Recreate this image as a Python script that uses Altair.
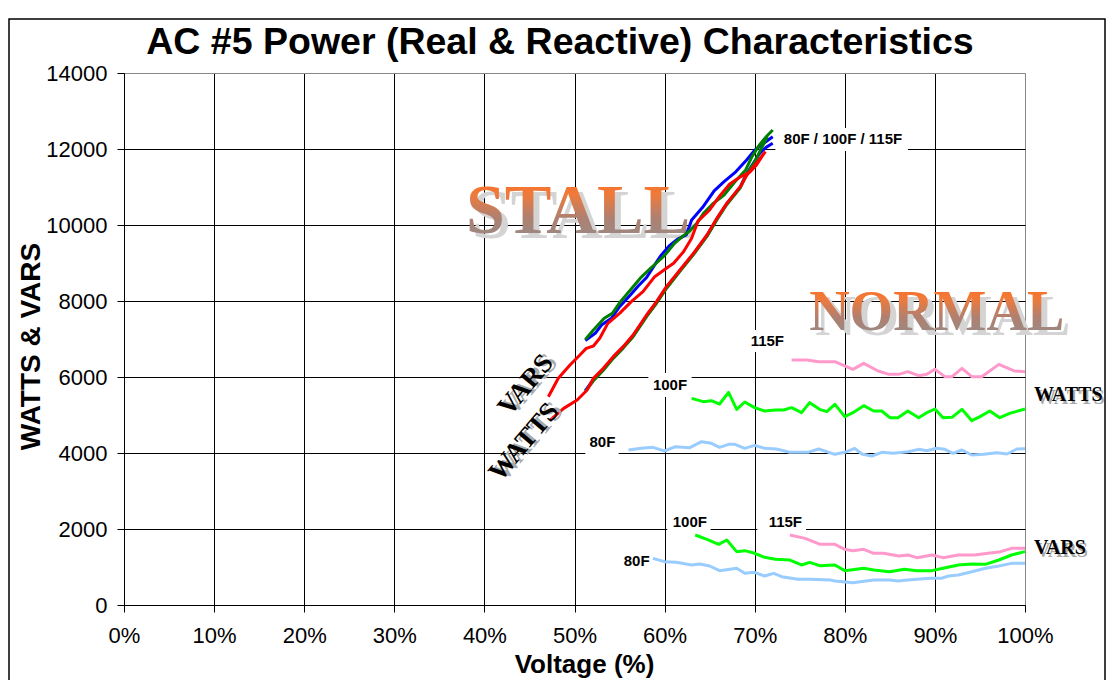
import altair as alt
import pandas as pd

# ---------------- data (voltage %, watts/vars) ----------------
# Stall region, VARS (upper group)
STALL_VARS_80F_X = [51.2, 52.3, 53.0, 54.1, 55.0, 56.2, 57.1, 58.0, 58.9, 59.6, 60.5, 61.4, 62.4, 63.0, 64.2, 65.5, 66.6, 67.9, 69.1, 70.0, 71.0, 72.0]
STALL_VARS_80F_Y = [6960, 7149, 7368, 7544, 7851, 8158, 8400, 8620, 8950, 9200, 9450, 9620, 9740, 10130, 10460, 10900, 11140, 11400, 11710, 11970, 12150, 12320]
STALL_VARS_100F_X = [51.2, 52.1, 53.3, 54.2, 55.1, 56.2, 57.3, 58.4, 59.1, 60.0, 61.1, 62.0, 62.8, 63.6, 64.3, 65.4, 66.6, 67.8, 69.0, 69.7, 70.5, 71.3, 72.0]
STALL_VARS_100F_Y = [6990, 7237, 7544, 7675, 7982, 8289, 8600, 8850, 9000, 9200, 9520, 9700, 9850, 10050, 10300, 10570, 10790, 11140, 11450, 11800, 12100, 12330, 12500]
STALL_VARS_115F_X = [47.1, 48.2, 49.5, 50.6, 51.3, 52.1, 52.8, 53.7, 55.0, 56.3, 57.6, 58.9, 60.2, 61.0, 62.1, 63.0, 63.7, 65.0, 66.1, 67.2, 68.3, 69.5, 70.2, 71.0]
STALL_VARS_115F_Y = [5482, 5965, 6316, 6579, 6754, 6816, 7018, 7412, 7675, 7982, 8246, 8640, 8860, 8991, 9298, 9650, 10100, 10395, 10760, 11070, 11250, 11400, 11580, 11880]

# Stall region, WATTS (lower group)
STALL_WATTS_80F_X = [51.2, 52.1, 53.2, 54.3, 55.4, 56.5, 58.0, 59.1, 60.2, 61.7, 63.2, 64.7, 65.8, 66.9, 68.4, 69.1, 69.9, 70.6, 71.3, 72.0]
STALL_WATTS_80F_Y = [5640, 5930, 6200, 6510, 6780, 7080, 7610, 7960, 8350, 8800, 9240, 9720, 10160, 10560, 11000, 11350, 11640, 11900, 12050, 12150]
STALL_WATTS_100F_X = [51.2, 52.1, 53.2, 54.3, 55.4, 56.5, 58.0, 59.1, 60.2, 61.7, 63.2, 64.7, 65.8, 66.9, 68.4, 69.1, 69.9, 70.6, 71.4]
STALL_WATTS_100F_Y = [5614, 5900, 6180, 6490, 6760, 7060, 7590, 7940, 8330, 8780, 9220, 9700, 10140, 10540, 10980, 11330, 11620, 11950, 12320]
STALL_WATTS_115F_X = [47.3, 48.8, 50.3, 51.4, 52.1, 53.2, 54.3, 55.4, 56.5, 58.0, 59.1, 60.2, 61.7, 63.2, 64.7, 65.8, 66.9, 68.4, 69.1, 69.9, 70.6, 71.2]
STALL_WATTS_115F_Y = [4868, 5175, 5395, 5658, 5965, 6228, 6535, 6798, 7105, 7632, 7982, 8377, 8816, 9254, 9737, 10175, 10570, 11009, 11300, 11550, 11750, 11930]

# Normal region, WATTS
NORM_WATTS_80F_X = [56.0, 57.4, 58.7, 60.0, 61.2, 62.8, 64.1, 65.2, 66.1, 67.1, 67.8, 68.9, 70.0, 71.1, 72.4, 73.9, 75.9, 77.1, 78.9, 80.0, 81.1, 81.9, 83.0, 84.1, 85.4, 87.0, 88.2, 89.1, 90.2, 91.1, 92.0, 93.0, 94.1, 95.4, 96.9, 98.0, 99.1, 100.0]
NORM_WATTS_80F_Y = [4079, 4123, 4149, 4053, 4167, 4140, 4298, 4254, 4149, 4228, 4228, 4123, 4202, 4123, 4105, 4018, 4018, 4105, 3965, 4018, 4123, 3974, 3921, 4018, 3991, 4035, 4096, 4061, 4123, 4096, 3991, 4079, 3947, 3965, 4009, 3974, 4105, 4114]
NORM_WATTS_100F_X = [63.0, 64.3, 65.2, 66.1, 67.1, 68.0, 68.9, 70.0, 71.1, 72.3, 73.2, 74.1, 75.2, 76.1, 77.2, 78.0, 78.9, 80.0, 80.9, 82.1, 83.2, 84.1, 85.0, 85.9, 87.0, 88.2, 89.1, 90.0, 90.9, 91.9, 93.0, 94.1, 95.0, 96.1, 97.2, 98.3, 100.0]
NORM_WATTS_100F_Y = [5439, 5351, 5377, 5289, 5597, 5149, 5342, 5193, 5105, 5132, 5132, 5193, 5061, 5325, 5149, 5088, 5281, 4956, 5061, 5246, 5105, 5105, 4930, 4930, 5105, 4930, 5061, 5158, 4930, 4939, 5149, 4851, 4956, 5105, 4930, 5044, 5158]
NORM_WATTS_115F_X = [74.1, 75.8, 77.1, 78.9, 80.9, 82.1, 83.7, 84.9, 86.0, 87.0, 88.2, 89.1, 90.0, 91.1, 91.9, 93.0, 94.1, 95.2, 97.1, 98.8, 100.0]
NORM_WATTS_115F_Y = [6447, 6447, 6404, 6404, 6202, 6360, 6158, 6070, 6070, 6140, 6035, 6070, 6202, 6009, 6009, 6228, 6009, 6009, 6333, 6158, 6140]

# Normal region, VARS
NORM_VARS_80F_X = [58.7, 60.0, 61.3, 63.0, 63.9, 65.0, 66.1, 68.0, 68.9, 70.0, 71.1, 72.1, 73.0, 74.8, 76.1, 78.4, 78.9, 80.9, 83.2, 85.0, 85.9, 87.0, 88.0, 89.5, 90.7, 91.5, 92.6, 94.1, 95.6, 97.1, 98.5, 100.0]
NORM_VARS_80F_Y = [1228, 1140, 1123, 1053, 1079, 1026, 904, 965, 833, 860, 763, 833, 746, 675, 675, 658, 632, 588, 658, 658, 632, 658, 675, 702, 702, 763, 789, 877, 965, 1026, 1096, 1096]
NORM_VARS_100F_X = [63.4, 64.7, 66.0, 66.9, 68.0, 68.9, 70.0, 71.1, 72.3, 73.9, 75.2, 76.1, 77.2, 78.9, 80.0, 82.1, 83.2, 85.0, 86.6, 88.0, 89.7, 90.9, 92.6, 94.1, 95.6, 97.1, 98.5, 100.0]
NORM_VARS_100F_Y = [1842, 1728, 1596, 1711, 1404, 1430, 1360, 1254, 1202, 1184, 1053, 1123, 1035, 1053, 904, 965, 921, 877, 939, 904, 904, 965, 1053, 1079, 1070, 1184, 1316, 1404]
NORM_VARS_115F_X = [73.9, 75.6, 77.2, 78.9, 80.0, 80.9, 82.1, 83.2, 84.3, 86.0, 87.0, 88.0, 89.7, 90.9, 92.6, 94.4, 95.9, 97.3, 98.5, 100.0]
NORM_VARS_115F_Y = [1842, 1754, 1600, 1596, 1465, 1430, 1465, 1360, 1360, 1289, 1316, 1246, 1316, 1246, 1316, 1316, 1360, 1404, 1491, 1491]

X_TICKS = list(range(0, 101, 10))
Y_TICKS = list(range(0, 14001, 2000))

TITLE = "AC #5 Power (Real & Reactive) Characteristics"

# annotation texts (placed in data coordinates)
LABEL_TEXT = ["80F / 100F / 115F", "115F", "100F", "80F", "100F", "115F", "80F"]
LABEL_X = [79.8, 71.4, 60.6, 53.1, 62.8, 73.4, 56.9]
LABEL_Y = [12263, 6947, 5789, 4289, 2184, 2184, 1158]
BOX_X = [72.3, 68.9, 58.2, 51.2, 60.3, 70.3]
BOX_X2 = [87.0, 73.9, 63.0, 54.9, 65.1, 75.7]
BOX_Y = [12553, 7237, 6105, 4605, 2447, 2447]
BOX_Y2 = [11947, 6658, 5474, 3947, 1868, 1868]

BIG_TEXT = ["STALL", "NORMAL"]
BIG_X = [50.4, 90.2]
BIG_Y = [10345, 7684]
BIG_SIZE = [70, 56]

ROT_TEXT = ["VARS", "WATTS"]
ROT_X = [44.6, 44.4]
ROT_Y = [5789, 4289]

SIDE_TEXT = ["WATTS", "VARS"]
SIDE_X = [101.0, 101.0]
SIDE_Y = [5526, 1500]

# ---------------- build tables ----------------
def series(name, xs, ys):
    return pd.DataFrame({"x": xs, "y": ys, "series": name, "i": range(len(xs))})

groups = [
    ("#99CCFF", [("nw80", NORM_WATTS_80F_X, NORM_WATTS_80F_Y), ("nv80", NORM_VARS_80F_X, NORM_VARS_80F_Y)]),
    ("#00FF00", [("nw100", NORM_WATTS_100F_X, NORM_WATTS_100F_Y), ("nv100", NORM_VARS_100F_X, NORM_VARS_100F_Y)]),
    ("#FF99CC", [("nw115", NORM_WATTS_115F_X, NORM_WATTS_115F_Y), ("nv115", NORM_VARS_115F_X, NORM_VARS_115F_Y)]),
    ("#0000FF", [("sw80", STALL_WATTS_80F_X, STALL_WATTS_80F_Y), ("sv80", STALL_VARS_80F_X, STALL_VARS_80F_Y)]),
    ("#007F00", [("sw100", STALL_WATTS_100F_X, STALL_WATTS_100F_Y), ("sv100", STALL_VARS_100F_X, STALL_VARS_100F_Y)]),
    ("#FF0000", [("sw115", STALL_WATTS_115F_X, STALL_WATTS_115F_Y), ("sv115", STALL_VARS_115F_X, STALL_VARS_115F_Y)]),
]

FONT = "Liberation Sans"
SERIF = "Liberation Serif"

x_enc = alt.X(
    "x:Q",
    scale=alt.Scale(domain=[0, 100], nice=False, zero=False),
    axis=alt.Axis(
        values=X_TICKS, labelExpr="datum.value + '%'", title="Voltage (%)",
        labelFontSize=22, labelFont=FONT, labelColor="black", labelPadding=13,
        labelFlush=False,
        tickSize=7, tickColor="black", domainColor="black",
        grid=True,
        gridColor={"condition": {"test": "datum.value == 100", "value": "#888888"}, "value": "#000000"},
        titleFont=FONT, titleFontSize=26, titleFontWeight="bold", titleColor="black",
        titleX=460, titleY=59, titleBaseline="middle", titleAlign="center",
    ),
)
y_enc = alt.Y(
    "y:Q",
    scale=alt.Scale(domain=[0, 14000], nice=False),
    axis=alt.Axis(
        values=Y_TICKS, format="d", title="WATTS & VARS",
        labelFontSize=22, labelFont=FONT, labelColor="black", labelPadding=10,
        labelFlush=False,
        tickSize=7, tickColor="black", domainColor="black",
        grid=True,
        gridColor={"condition": {"test": "datum.value == 14000", "value": "#888888"}, "value": "#000000"},
        titleFont=FONT, titleFontSize=28, titleFontWeight="bold", titleColor="black",
        titleX=-93, titleY=273, titleAngle=270, titleBaseline="middle", titleAlign="center",
    ),
)

layers = []

# outer frame
layers.append(
    alt.Chart(pd.DataFrame({"a": [0]})).mark_rect(fill=None, stroke="black", strokeWidth=1.5, clip=False)
    .encode(x=alt.value(-115), x2=alt.value(981), y=alt.value(-54), y2=alt.value(700))
)

# chart title
layers.append(
    alt.Chart(pd.DataFrame({"t": [TITLE]})).mark_text(
        font=FONT, fontSize=37.5, fontWeight="bold", color="black",
        align="center", baseline="alphabetic"
    ).encode(x=alt.value(436), y=alt.value(-19), text="t:N")
)

# white boxes behind the small labels
boxes = pd.DataFrame({"x": BOX_X, "x2": BOX_X2, "y": BOX_Y, "y2": BOX_Y2})
layers.append(
    alt.Chart(boxes).mark_rect(fill="white", stroke=None).encode(
        x=x_enc, x2="x2:Q", y=y_enc, y2="y2:Q"
    )
)

# WordArt-like STALL / NORMAL
big = pd.DataFrame({"t": BIG_TEXT, "x": BIG_X, "y": BIG_Y, "s": BIG_SIZE})
grad = alt.Gradient(
    gradient="linear",
    stops=[alt.GradientStop(color="#FF6A1A", offset=0.0),
           alt.GradientStop(color="#F07A3A", offset=0.3),
           alt.GradientStop(color="#B08070", offset=0.6),
           alt.GradientStop(color="#8E8E8E", offset=1.0)],
    x1=0, x2=0, y1=0, y2=1,
)
for i, bs in enumerate(BIG_SIZE):
    d = big.iloc[[i]]
    layers.append(
        alt.Chart(d).mark_text(font=SERIF, fontWeight="bold", fontSize=bs, color="#D4D4D4",
                               dx=6, dy=5, baseline="middle", align="center")
        .encode(x=x_enc, y=y_enc, text="t:N")
    )
    layers.append(
        alt.Chart(d).mark_text(font=SERIF, fontWeight="bold", fontSize=bs, fill=grad,
                               baseline="middle", align="center")
        .encode(x=x_enc, y=y_enc, text="t:N")
    )

# lines
for color, ser in groups:
    df = pd.concat([series(n, xs, ys) for n, xs, ys in ser], ignore_index=True)
    layers.append(
        alt.Chart(df).mark_line(color=color, strokeWidth=3, strokeJoin="round").encode(
            x=x_enc, y=y_enc, detail="series:N", order="i:Q"
        )
    )

# small labels
lab = pd.DataFrame({"t": LABEL_TEXT, "x": LABEL_X, "y": LABEL_Y})
layers.append(
    alt.Chart(lab).mark_text(font=FONT, fontWeight="bold", fontSize=15, color="black",
                             baseline="middle", align="center")
    .encode(x=x_enc, y=y_enc, text="t:N")
)

# rotated VARS / WATTS near stall curves
rot = pd.DataFrame({"t": ROT_TEXT, "x": ROT_X, "y": ROT_Y})
for col, dx, dy in [("#AAAAAA", 3, 3), ("black", 0, 0)]:
    layers.append(
        alt.Chart(rot).mark_text(font=SERIF, fontWeight="bold", fontSize=27, color=col,
                                 angle=310, dx=dx, dy=dy, baseline="middle", align="center")
        .encode(x=x_enc, y=y_enc, text="t:N")
    )

# side labels WATTS / VARS
side = pd.DataFrame({"t": SIDE_TEXT, "x": SIDE_X, "y": SIDE_Y})
for col, dx, dy in [("#AAAAAA", 2, 3), ("black", 0, 0)]:
    layers.append(
        alt.Chart(side).mark_text(font=SERIF, fontWeight="bold", fontSize=20, color=col,
                                  dx=dx, dy=dy, baseline="middle", align="left")
        .encode(x=x_enc, y=y_enc, text="t:N")
    )

chart = alt.layer(*layers).properties(
    width=901,
    height=532,
    autosize=alt.AutoSizeParams(type="none"),
    padding={"left": 116, "top": 65, "right": 82, "bottom": 75},
).configure_view(
    stroke="#888888", strokeWidth=1
).configure(background="white")

chart.save("out.html", embed_options={"renderer": "svg", "actions": False})
